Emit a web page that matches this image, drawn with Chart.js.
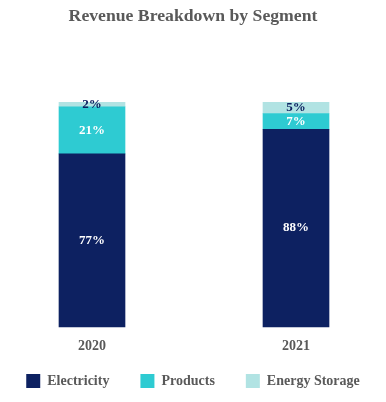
<!DOCTYPE html>
<html lang="en">
<head>
  <meta charset="UTF-8">
  <title>Revenue Breakdown by Segment</title>
  <style>
    body { margin: 0; background: #ffffff; }
  </style>
</head>
<body>
  <canvas id="revChart" width="386" height="402"></canvas>

  <script src="https://cdn.jsdelivr.net/npm/chart.js"></script>
  <script>
    // data
    const years = ['2020', '2021'];
    const electricity = [77, 88];
    const products = [21, 7];
    const energyStorage = [2, 5];

    const textGray = '#595959';
    const serif = '"Liberation Serif", "Times New Roman", serif';

    // draws the % inside each segment
    const segmentLabels = {
      id: 'segmentLabels',
      afterDatasetsDraw(chart) {
        const ctx = chart.ctx;
        ctx.save();
        ctx.font = 'bold 13px ' + serif;
        ctx.textAlign = 'center';
        ctx.textBaseline = 'middle';
        chart.data.datasets.forEach((ds, i) => {
          chart.getDatasetMeta(i).data.forEach((bar, j) => {
            const mid = (bar.y + bar.base) / 2;
            ctx.fillStyle = ds.labelColor;
            ctx.fillText(ds.data[j] + '%', bar.x, mid);
          });
        });
        ctx.restore();
      }
    };

    // invisible side axes, only used to hold the columns where the original has them
    const spacerAxis = (position, width) => ({
      position,
      display: true,
      min: 0,
      max: 100,
      grid: { display: false, drawTicks: false },
      border: { display: false },
      ticks: { display: false },
      afterFit: (scale) => { scale.width = width; }
    });

    new Chart(document.getElementById('revChart'), {
      type: 'bar',
      data: {
        labels: years,
        datasets: [
          { label: 'Electricity', data: electricity, backgroundColor: '#0D2161', labelColor: '#ffffff' },
          { label: 'Products', data: products, backgroundColor: '#2ECBD2', labelColor: '#ffffff' },
          { label: 'Energy Storage', data: energyStorage, backgroundColor: '#B1E3E3', labelColor: '#0D2161' }
        ]
      },
      options: {
        responsive: false,
        animation: false,
        // negative sides only give the legend a little more room for one row
        layout: { padding: { left: -11, right: -11, top: 0, bottom: 4 } },
        datasets: { bar: { barThickness: 66, clip: false } },
        scales: {
          x: {
            stacked: true,
            offset: false,
            grid: { display: false, drawTicks: false },
            border: { display: false },
            ticks: {
              color: textGray,
              font: { family: serif, size: 14, weight: 'bold' },
              // mirrored + negative padding puts the years below the bars without clipping
              mirror: true,
              padding: -28
            },
            // let the legend sit close under the year labels
            afterFit: (scale) => { scale.height = 16; }
          },
          y: Object.assign(spacerAxis('left', 103), { stacked: true }),
          yRight: spacerAxis('right', 101)
        },
        plugins: {
          title: {
            display: true,
            text: 'Revenue Breakdown by Segment',
            color: textGray,
            font: { family: serif, size: 17.7, weight: 'bold' },
            padding: { top: 6, bottom: 75 }
          },
          legend: {
            position: 'bottom',
            labels: {
              color: textGray,
              font: { family: serif, size: 14, weight: 'bold' },
              boxWidth: 14,
              boxHeight: 14,
              padding: 31
            },
            onClick: null
          },
          tooltip: { enabled: false }
        }
      },
      plugins: [segmentLabels]
    });
  </script>
</body>
</html>
